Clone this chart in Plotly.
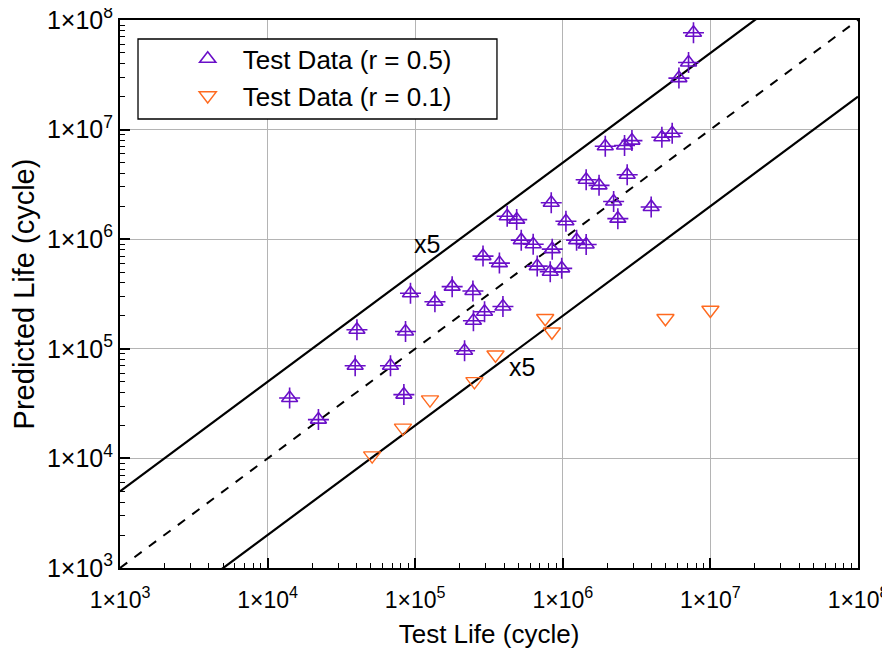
import plotly.graph_objects as go

# Test Data (r = 0.5)
test_life_r05 = [1.41e4, 2.21e4, 3.92e4, 4.03e4, 6.8e4, 8.38e4, 8.6e4, 9.29e4, 1.36e5, 1.78e5,
                 2.46e5, 2.48e5, 2.95e5, 3.93e5, 2.16e5, 2.88e5, 3.72e5, 4.2e5, 4.87e5, 5.23e5,
                 6.3e5, 6.71e5, 8.22e5, 9.83e5, 8.48e5, 8.35e5, 1.05e6, 1.24e6, 1.44e6, 1.44e6,
                 1.76e6, 2.21e6, 2.36e6, 2.73e6, 3.97e6, 1.94e6, 2.62e6, 2.94e6, 4.69e6, 5.51e6,
                 6.12e6, 7.11e6, 7.68e6]
pred_life_r05 = [3.56e4, 2.26e4, 7.01e4, 1.49e5, 7.01e4, 3.82e4, 1.44e5, 3.21e5, 2.69e5, 3.69e5,
                 3.37e5, 1.8e5, 2.18e5, 2.43e5, 9.6e4, 7.01e5, 6.05e5, 1.62e6, 1.51e6, 9.8e5,
                 9.0e5, 5.68e5, 5.04e5, 5.42e5, 8.11e5, 2.15e6, 1.46e6, 9.8e5, 8.95e5, 3.49e6,
                 3.1e6, 2.21e6, 1.54e6, 3.87e6, 1.97e6, 7.05e6, 7.15e6, 7.94e6, 8.51e6, 9.26e6,
                 2.95e7, 4.09e7, 7.66e7]

# Test Data (r = 0.1)
test_life_r01 = [5.11e4, 8.26e4, 1.26e5, 2.52e5, 3.5e5, 7.6e5, 8.44e5, 4.96e6, 1.0e7]
pred_life_r01 = [1.06e4, 1.9e4, 3.44e4, 5.04e4, 8.82e4, 1.9e5, 1.43e5, 1.9e5, 2.26e5]

ref_x = [1e3, 1e8]
band_factor = 5

exponents = [3, 4, 5, 6, 7, 8]
tick_vals = [10 ** e for e in exponents]
tick_text = [f"1\u00d710<sup>{e}</sup>" for e in exponents]
minor_vals = [k * 10 ** e for e in exponents[:-1] for k in range(2, 10)]

purple = "#6a0fc8"
orange = "#ff6a1f"
font = "Liberation Sans, Arial, sans-serif"

fig = go.Figure()

# 1:1 line and x5 band
fig.add_trace(go.Scatter(x=ref_x, y=ref_x, mode="lines",
                         line=dict(color="black", width=2, dash="dash"),
                         showlegend=False, hoverinfo="skip"))
for f in (band_factor, 1 / band_factor):
    fig.add_trace(go.Scatter(x=ref_x, y=[v * f for v in ref_x], mode="lines",
                             line=dict(color="black", width=2.2),
                             showlegend=False, hoverinfo="skip"))

fig.add_trace(go.Scatter(x=test_life_r05, y=pred_life_r05, mode="markers",
                         name="Test Data (r = 0.5)",
                         marker=dict(symbol="triangle-up-open", size=14, color=purple,
                                     line=dict(width=1.6, color=purple))))
fig.add_trace(go.Scatter(x=test_life_r05, y=pred_life_r05, mode="markers",
                         showlegend=False, hoverinfo="skip",
                         marker=dict(symbol="cross-thin-open", size=15, color=purple,
                                     line=dict(width=1.6, color=purple))))
fig.add_trace(go.Scatter(x=test_life_r01, y=pred_life_r01, mode="markers",
                         name="Test Data (r = 0.1)",
                         marker=dict(symbol="triangle-down-open", size=15, color=orange,
                                     line=dict(width=1.4, color=orange))))

fig.add_annotation(x=5.08, y=5.96, xref="x", yref="y", text="x5", showarrow=False,
                   font=dict(size=25, color="black", family=font))
fig.add_annotation(x=5.725, y=4.83, xref="x", yref="y", text="x5", showarrow=False,
                   font=dict(size=25, color="black", family=font))

# legend frame (the legend itself is drawn without a border on top of it)
fig.add_shape(type="rect", xref="paper", yref="paper",
              x0=0.0244, x1=0.5108, y0=0.8193, y1=0.9653,
              fillcolor="white", line=dict(color="black", width=1.3), layer="above")

axis_common = dict(
    type="log",
    range=[3, 8],
    tickvals=tick_vals,
    ticktext=tick_text,
    ticks="inside",
    ticklen=10,
    tickwidth=1.6,
    tickcolor="black",
    ticklabeloverflow="allow",
    showline=True,
    linecolor="black",
    linewidth=2,
    mirror=True,
    showgrid=True,
    gridcolor="#b4b4b4",
    gridwidth=1.3,
    zeroline=False,
    minor=dict(tickvals=minor_vals, ticks="inside", ticklen=5, tickwidth=1.3,
               tickcolor="black", showgrid=False),
)

fig.update_xaxes(**axis_common,
                 ticklabelstandoff=10,
                 tickfont=dict(size=23, color="black", family=font),
                 title=dict(text="Test Life (cycle)", font=dict(size=26, color="black", family=font),
                            standoff=24))
fig.update_yaxes(**axis_common,
                 ticklabelstandoff=0,
                 tickfont=dict(size=25, color="black", family=font),
                 title=dict(text="Predicted Life (cycle)", font=dict(size=29, color="black", family=font),
                            standoff=4))

# page body adds an 8 px margin, so the figure is sized to fit the window
fig.update_layout(
    width=874,
    height=641,
    margin=dict(l=112, r=24, t=12, b=81, autoexpand=False),
    plot_bgcolor="white",
    paper_bgcolor="white",
    font=dict(family=font, color="black"),
    legend=dict(x=0.024, y=0.972, xanchor="left", yanchor="top",
                bgcolor="rgba(0,0,0,0)", borderwidth=0,
                font=dict(size=26, color="black", family=font),
                itemwidth=60, indentation=35, tracegroupgap=0),
)

fig.write_html("out.html")
